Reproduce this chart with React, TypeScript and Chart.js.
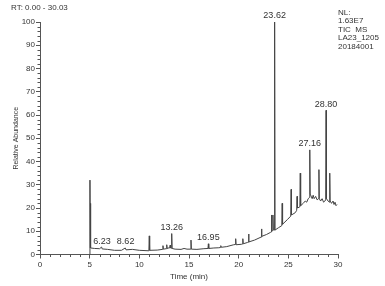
import React, { useEffect, useRef } from "react";
import { Chart, registerables } from "chart.js";

Chart.register(...registerables);

// Retention time (min) of each trace point
const times: number[] = [
  5.0, 5.03, 5.06, 5.08, 5.11, 5.5, 6.0, 6.2, 6.26, 6.8, 7.5, 8.2, 8.58, 8.66, 9.3, 10.0,
  10.96, 11.0, 11.04, 11.8, 12.34, 12.38, 12.42, 12.7, 12.76, 12.8, 12.84, 13.05, 13.1, 13.14,
  13.22, 13.26, 13.3, 13.6, 14.2, 14.5, 14.8, 15.16, 15.2, 15.24, 15.8, 16.5, 16.91, 16.95,
  16.99, 17.5, 18.0, 18.16, 18.2, 18.26, 18.8, 19.5, 19.66, 19.7, 19.74, 20.3, 20.38, 20.42,
  20.46, 20.9, 20.96, 21.0, 21.04, 21.6, 22.26, 22.3, 22.34, 22.8, 23.2, 23.27, 23.3, 23.34,
  23.42, 23.45, 23.49, 23.58, 23.62, 23.66, 24.0, 24.34, 24.38, 24.42, 24.9, 25.24, 25.28,
  25.32, 25.7, 25.84, 25.88, 25.92, 26.16, 26.2, 26.24, 26.5, 26.7, 26.85, 27.0, 27.12, 27.16,
  27.2, 27.4, 27.5, 27.6, 27.75, 27.9, 28.04, 28.08, 28.12, 28.25, 28.4, 28.55, 28.68, 28.76,
  28.8, 28.84, 29.0, 29.13, 29.17, 29.21, 29.35, 29.5, 29.6, 29.7, 29.8, 29.9,
];

// Relative abundance (%) at each time
const abundance: number[] = [
  0, 32, 3, 22, 2.8, 2.6, 2.5, 3.2, 2.4, 2.2, 1.8, 1.8, 2.8, 2.0, 2.2, 1.8,
  1.6, 8, 1.8, 1.9, 2.2, 3.8, 2.3, 2.5, 4.2, 2.6, 2.8, 2.8, 4.0, 2.8,
  2.7, 9, 2.6, 2.3, 2.2, 2.6, 2.3, 2.3, 6.2, 2.3, 2.2, 2.5, 2.6, 4.6,
  2.6, 2.8, 2.9, 3.0, 3.8, 3.1, 3.4, 4.2, 4.3, 6.8, 4.2, 4.4, 4.5, 6.8,
  4.6, 5.2, 5.3, 8.8, 5.4, 6.2, 7.5, 11, 7.8, 8.6, 9.5, 9.7, 17, 10,
  10.3, 17, 10.6, 10.5, 100, 10.5, 11.5, 12.4, 22, 13, 15, 16.5, 28,
  17, 18, 19, 25, 20, 20.5, 35, 21, 22, 23, 22.5, 24, 24.5, 45,
  26, 24, 25.5, 24, 25, 23.5, 24, 36.5, 24, 23, 24, 22.5, 23, 23.5,
  62, 24, 23, 22.5, 35, 23, 22, 23, 21.5, 22.5, 21, 21.5,
];

const peakLabels: string[] = ["6.23", "8.62", "13.26", "16.95", "23.62", "27.16", "28.80"];
const peakTimes: number[] = [6.23, 8.62, 13.26, 16.95, 23.62, 27.16, 28.8];
const peakHeights: number[] = [3.2, 2.8, 9, 4.6, 100, 45, 62];

const xTicks: number[] = [0, 5, 10, 15, 20, 25, 30];
const yTicks: number[] = [0, 10, 20, 30, 40, 50, 60, 70, 80, 90, 100];

const headerLeft = "RT: 0.00 - 30.03";
const headerRight: string[] = ["NL:", "1.63E7", "TIC  MS", "LA23_1205", "20184001"];

const FONT = '"Liberation Sans", Arial, sans-serif';
const AXIS = "#555";
const TXT = "#333";

const decorPlugin = {
  id: "decor",
  afterDraw(chart: any) {
    const ctx = chart.ctx;
    const xs = chart.scales.x;
    const ys = chart.scales.y;
    ctx.save();
    // minor ticks
    ctx.strokeStyle = AXIS;
    ctx.lineWidth = 1;
    ctx.beginPath();
    for (let t = 0; t <= 30; t += 1) {
      if (t % 5 === 0) continue;
      const px = Math.round(xs.getPixelForValue(t)) + 0.5;
      ctx.moveTo(px, xs.top);
      ctx.lineTo(px, xs.top + 2.5);
    }
    for (let v = 0; v <= 100; v += 2) {
      if (v % 10 === 0) continue;
      const py = Math.round(ys.getPixelForValue(v)) + 0.5;
      ctx.moveTo(ys.right, py);
      ctx.lineTo(ys.right - 2.5, py);
    }
    ctx.stroke();

    // peak labels
    ctx.fillStyle = TXT;
    ctx.font = `9px ${FONT}`;
    ctx.textAlign = "center";
    ctx.textBaseline = "bottom";
    peakLabels.forEach((lab, i) => {
      const px = xs.getPixelForValue(peakTimes[i]);
      const py = ys.getPixelForValue(peakHeights[i]);
      ctx.fillText(lab, px, py - 1.5);
    });

    // headers
    ctx.font = `8px ${FONT}`;
    ctx.textAlign = "left";
    ctx.textBaseline = "middle";
    ctx.fillText(headerLeft, 11, 8);
    headerRight.forEach((line, i) => {
      ctx.fillText(line, 338, 12.5 + i * 8.5);
    });
    ctx.restore();
  },
};

export default function App() {
  const ref = useRef<HTMLCanvasElement | null>(null);
  useEffect(() => {
    if (!ref.current) return;
    const chart = new Chart(ref.current, {
      type: "line",
      data: {
        datasets: [
          {
            data: times.map((t, i) => ({ x: t, y: abundance[i] })),
            borderColor: "#444",
            borderWidth: 1,
            pointRadius: 0,
            tension: 0,
            fill: false,
          },
        ],
      },
      options: {
        animation: false,
        responsive: false,
        devicePixelRatio: 1,
        layout: { padding: { top: 22, right: 47, left: 0, bottom: 0 } },
        plugins: { legend: { display: false }, tooltip: { enabled: false } },
        scales: {
          x: {
            type: "linear",
            min: 0,
            max: 30,
            afterBuildTicks: (s: any) => {
              s.ticks = xTicks.map((v) => ({ value: v }));
            },
            afterFit: (s: any) => {
              s.height = 31.5;
            },
            ticks: { font: { size: 8, family: FONT }, color: TXT, padding: 1, maxRotation: 0 },
            grid: { display: true, drawOnChartArea: false, drawTicks: true, tickLength: 4, color: AXIS },
            border: { display: true, color: AXIS },
            title: {
              display: true,
              text: "Time (min)",
              font: { size: 8, family: FONT },
              color: TXT,
              padding: { top: 0, bottom: 4 },
            },
          },
          y: {
            min: 0,
            max: 100,
            afterBuildTicks: (s: any) => {
              s.ticks = yTicks.map((v) => ({ value: v }));
            },
            afterFit: (s: any) => {
              s.width = 40;
            },
            ticks: { font: { size: 8, family: FONT }, color: TXT, padding: 1 },
            grid: { display: true, drawOnChartArea: false, drawTicks: true, tickLength: 4, color: AXIS },
            border: { display: true, color: AXIS },
            title: {
              display: true,
              text: "Relative Abundance",
              font: { size: 7, family: FONT },
              color: TXT,
              padding: { top: 12, bottom: 0 },
            },
          },
        },
      },
      plugins: [decorPlugin],
    } as any);
    return () => chart.destroy();
  }, []);
  return (
    <div style={{ position: "fixed", left: 0, top: 0, width: 385, height: 286, background: "#fff" }}>
      <canvas ref={ref} width={385} height={286} />
    </div>
  );
}
